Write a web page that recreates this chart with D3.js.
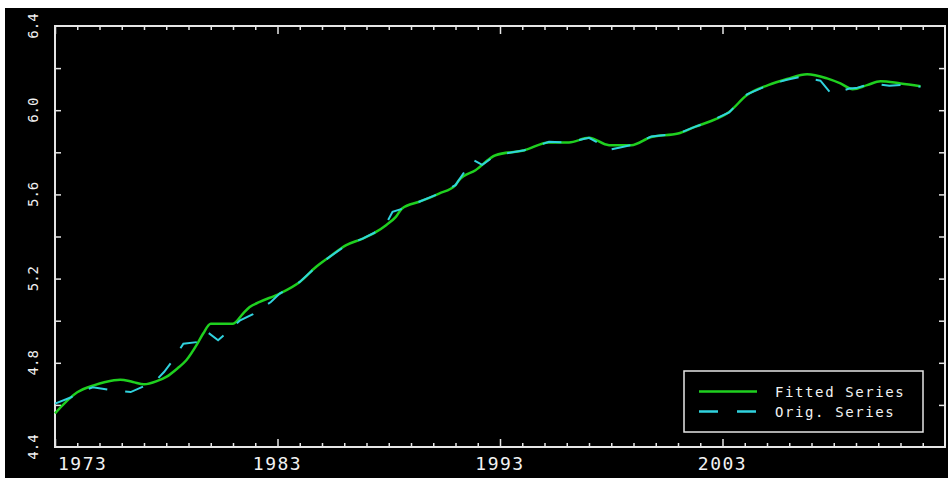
<!DOCTYPE html>
<html>
<head>
<meta charset="utf-8">
<script src="https://cdn.jsdelivr.net/npm/d3@7"></script>
<style>
  body { margin: 0; background: #fff; }
  svg { display: block; }
  .lbl { fill: #f2f2f2; font-family: "DejaVu Sans Mono", monospace; }
</style>
</head>
<body>
<div id="chart"></div>
<script>
// fitted series (green)
var fitYears = [1973.0, 1974.0, 1974.74, 1975.26, 1975.93, 1976.5, 1977.0, 1977.6, 1978.0, 1978.5,
  1978.9, 1979.4, 1979.66, 1980.0, 1981.0, 1981.45, 1981.75, 1982.2, 1983.1, 1984.0,
  1984.74, 1985.34, 1986.09, 1986.83, 1987.43, 1987.88, 1988.32, 1988.6, 1989.37, 1990.26,
  1991.0, 1991.16, 1991.9, 1992.8, 1994.1, 1995.2, 1996.1, 1997.0, 1997.9, 1998.9,
  1999.8, 2001.0, 2001.76, 2002.4, 2003.3, 2004.1, 2005.05, 2005.9, 2006.8, 2007.7,
  2008.3, 2008.85, 2009.5, 2010.1, 2011.0, 2011.9];
var fitValues = [4.56, 4.66, 4.693, 4.709, 4.72, 4.709, 4.698, 4.714, 4.733, 4.773,
  4.812, 4.891, 4.939, 4.986, 4.986, 5.034, 5.065, 5.089, 5.129, 5.184,
  5.256, 5.303, 5.359, 5.39, 5.422, 5.454, 5.493, 5.533, 5.565, 5.604,
  5.644, 5.668, 5.715, 5.786, 5.81, 5.847, 5.847, 5.869, 5.834, 5.834,
  5.873, 5.889, 5.921, 5.945, 5.992, 6.072, 6.119, 6.148, 6.171, 6.151,
  6.127, 6.1, 6.119, 6.138, 6.127, 6.114];

// original series (cyan, dashed)
var origYears = [1973.0, 1973.7, 1974.2, 1974.7, 1975.56, 1976.0, 1976.4, 1977.1, 1977.5, 1977.9,
  1978.3, 1978.77, 1979.44, 1979.8, 1980.33, 1980.93, 1981.3, 1981.9, 1982.7, 1983.1,
  1984.0, 1984.74, 1985.34, 1986.09, 1986.83, 1987.43, 1987.88, 1988.17, 1988.84, 1989.37,
  1990.26, 1991.0, 1991.4, 1991.75, 1992.2, 1992.8, 1994.1, 1995.2, 1996.1, 1997.0,
  1997.5, 1997.8, 1998.4, 1998.9, 1999.8, 2001.0, 2001.76, 2002.4, 2003.3, 2004.1,
  2005.05, 2005.9, 2006.7, 2007.0, 2007.4, 2007.9, 2008.7, 2009.0, 2009.7, 2010.5,
  2011.0, 2011.9];
var origValues = [4.606, 4.635, 4.665, 4.684, 4.669, 4.665, 4.661, 4.693, 4.712, 4.756,
  4.812, 4.891, 4.899, 4.95, 4.907, 4.963, 5.0, 5.031, 5.089, 5.129,
  5.184, 5.256, 5.303, 5.359, 5.39, 5.422, 5.46, 5.517, 5.54, 5.565,
  5.604, 5.644, 5.707, 5.766, 5.74, 5.786, 5.81, 5.85, 5.847, 5.869,
  5.84, 5.81, 5.823, 5.834, 5.875, 5.889, 5.921, 5.945, 5.99, 6.075,
  6.119, 6.145, 6.163, 6.148, 6.14, 6.076, 6.103, 6.105, 6.127, 6.116,
  6.12, 6.112];

var xTickLabels = [1973, 1983, 1993, 2003];
var yTickLabels = [4.4, 4.8, 5.2, 5.6, 6.0, 6.4];
var seriesNames = ["Fitted Series", "Orig. Series"];

var svgWidth = 948, svgHeight = 478;
var plotL = 55, plotR = 945, plotT = 26, plotB = 447;
var green = "#1fd01f", cyan = "#30d2de";

var svg = d3.select("#chart").append("svg")
  .attr("width", svgWidth)
  .attr("height", svgHeight);

// black panel
svg.append("rect")
  .attr("x", 5).attr("y", 8)
  .attr("width", svgWidth - 5).attr("height", svgHeight - 8)
  .attr("fill", "#000");

var x = d3.scaleLinear().domain([1973, 2013]).range([plotL, plotR]);
var y = d3.scaleLinear().domain([4.4, 6.4]).range([plotB, plotT]);

var yearTicks = d3.range(1974, 2013);
var minorYears = yearTicks.filter(function(d) { return (d - 1973) % 10 != 0; });
var valTicks = d3.range(4.6, 6.3, 0.2);

// ticks, all pointing inward
function tickStyle(g) {
  g.select(".domain").remove();
  g.selectAll("line").attr("stroke", "#e6e6e6").attr("stroke-width", 1.5);
  g.selectAll("text").remove();
}
svg.append("g").attr("transform", "translate(0," + plotB + ")")
  .call(d3.axisBottom(x).tickValues(minorYears).tickSize(-4)).call(tickStyle);
svg.append("g").attr("transform", "translate(0," + plotB + ")")
  .call(d3.axisBottom(x).tickValues(xTickLabels).tickSize(-8)).call(tickStyle);
svg.append("g").attr("transform", "translate(0," + plotT + ")")
  .call(d3.axisTop(x).tickValues(minorYears).tickSize(-4)).call(tickStyle);
svg.append("g").attr("transform", "translate(0," + plotT + ")")
  .call(d3.axisTop(x).tickValues(xTickLabels).tickSize(-8)).call(tickStyle);
svg.append("g").attr("transform", "translate(" + plotL + ",0)")
  .call(d3.axisLeft(y).tickValues(valTicks).tickSize(-6)).call(tickStyle);
svg.append("g").attr("transform", "translate(" + plotR + ",0)")
  .call(d3.axisRight(y).tickValues(valTicks).tickSize(-6)).call(tickStyle);

// frame
svg.append("rect")
  .attr("x", plotL).attr("y", plotT)
  .attr("width", plotR - plotL).attr("height", plotB - plotT)
  .attr("fill", "none")
  .attr("stroke", "#e6e6e6")
  .attr("stroke-width", 2);

// x labels
svg.selectAll(".xlab").data(xTickLabels).enter()
  .append("text")
  .attr("class", "lbl")
  .attr("x", function(d, i) { return i == 0 ? x(d) + 3 : x(d); })
  .attr("y", 470)
  .attr("text-anchor", function(d, i) { return i == 0 ? "start" : "middle"; })
  .attr("font-size", 18)
  .attr("letter-spacing", 1.5)
  .text(function(d) { return d; });

// y labels, rotated
svg.selectAll(".ylab").data(yTickLabels).enter()
  .append("text")
  .attr("class", "lbl")
  .attr("text-anchor", "middle")
  .attr("font-size", 14)
  .attr("transform", function(d) { return "translate(38," + y(d) + ")rotate(-90)"; })
  .text(function(d) { return d3.format(".1f")(d); });

var fitLine = d3.line()
  .curve(d3.curveMonotoneX)
  .x(function(d) { return x(d[0]); })
  .y(function(d) { return y(d[1]); });
var origLine = d3.line()
  .x(function(d) { return x(d[0]); })
  .y(function(d) { return y(d[1]); });

var fitData = fitYears.map(function(d, i) { return [d, fitValues[i]]; });
var origData = origYears.map(function(d, i) { return [d, origValues[i]]; });

svg.append("path")
  .datum(fitData)
  .attr("d", fitLine)
  .attr("fill", "none")
  .attr("stroke", green)
  .attr("stroke-width", 2.5)
  .attr("stroke-linejoin", "round");

svg.append("path")
  .datum(origData)
  .attr("d", origLine)
  .attr("fill", "none")
  .attr("stroke", cyan)
  .attr("stroke-width", 2)
  .attr("stroke-dasharray", "19,18");

// legend
var lg = svg.append("g");
lg.append("rect")
  .attr("x", 684).attr("y", 371)
  .attr("width", 239).attr("height", 61)
  .attr("fill", "#000")
  .attr("stroke", "#e6e6e6")
  .attr("stroke-width", 1.5);
lg.append("line")
  .attr("x1", 699).attr("x2", 757).attr("y1", 391.5).attr("y2", 391.5)
  .attr("stroke", green).attr("stroke-width", 2.5);
lg.append("line")
  .attr("x1", 699).attr("x2", 757).attr("y1", 411.5).attr("y2", 411.5)
  .attr("stroke", cyan).attr("stroke-width", 2.5)
  .attr("stroke-dasharray", "19,19");
lg.selectAll(".leg").data(seriesNames).enter()
  .append("text")
  .attr("class", "lbl")
  .attr("x", 775)
  .attr("y", function(d, i) { return 396.5 + i * 20; })
  .attr("font-size", 14)
  .attr("letter-spacing", 1.6)
  .text(function(d) { return d; });
</script>
</body>
</html>
